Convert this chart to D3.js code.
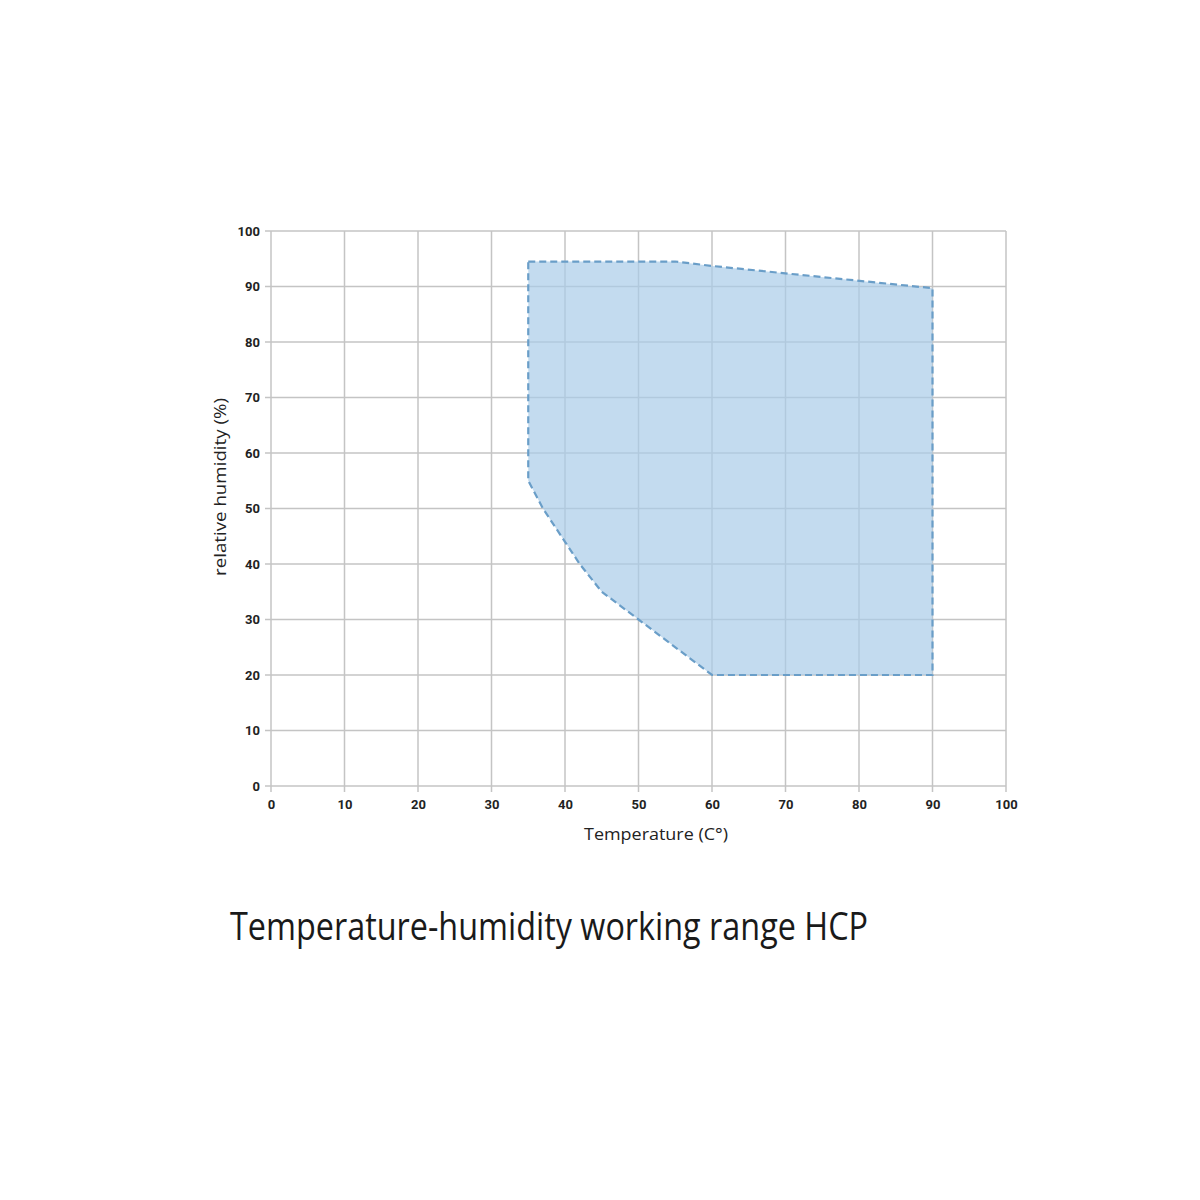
<!DOCTYPE html>
<html><head><meta charset="utf-8">
<script src="https://cdn.jsdelivr.net/npm/d3@7"></script>
<style>
html,body{margin:0;padding:0;background:#fff;}
.tick text{font-family:Roboto,"Liberation Sans",sans-serif;font-weight:bold;font-size:13px;fill:#222;}
</style></head>
<body><svg id="c" width="1200" height="1200"></svg>
<script>
const xTicks=[0,10,20,30,40,50,60,70,80,90,100];
const yTicks=[0,10,20,30,40,50,60,70,80,90,100];
const rangeTemp=[35,55,60,90,90,60,50,45,42,40,37,35];
const rangeHum=[94.5,94.5,93.7,89.7,20,20,30,35,40,44,50,55];

const svg=d3.select("#c");
const L=271,R=1006,T=231,B=786;
const x=d3.scaleLinear().domain([0,100]).range([L,R]);
const y=d3.scaleLinear().domain([0,100]).range([B,T]);
const grid="#c4c4c4";

const g=svg.append("g");
g.selectAll("line.v").data(xTicks).join("line").attr("x1",d=>x(d)).attr("x2",d=>x(d)).attr("y1",T).attr("y2",B+6).attr("stroke",grid).attr("stroke-width",1.5);
g.selectAll("line.h").data(yTicks).join("line").attr("y1",d=>y(d)).attr("y2",d=>y(d)).attr("x1",L-6).attr("x2",R).attr("stroke",grid).attr("stroke-width",1.5);

const pts=rangeTemp.map((t,i)=>[x(t),y(rangeHum[i])]);
svg.append("path").attr("d",d3.line()(pts)+"Z").attr("fill","#a9cce8").attr("fill-opacity",0.7)
  .attr("stroke","#6a9ec8").attr("stroke-width",2.2).attr("stroke-dasharray","7,4");

const xa=svg.append("g").attr("transform",`translate(0,${B})`).call(d3.axisBottom(x).tickValues(xTicks).tickSize(0).tickPadding(14));
xa.select(".domain").remove();
const ya=svg.append("g").attr("transform",`translate(${L},0)`).call(d3.axisLeft(y).tickValues(yTicks).tickSize(0).tickPadding(11));
ya.select(".domain").remove();

const lf='"Open Sans","Liberation Sans",sans-serif';
svg.append("text").attr("x",656).attr("y",840).attr("text-anchor","middle").attr("font-family",lf).attr("font-size",17).attr("fill","#222").attr("textLength",144).attr("lengthAdjust","spacingAndGlyphs").text("Temperature (C°)");
svg.append("text").attr("transform","translate(226,487) rotate(-90)").attr("text-anchor","middle").attr("font-family",lf).attr("font-size",17).attr("fill","#222").attr("textLength",178).attr("lengthAdjust","spacingAndGlyphs").text("relative humidity (%)");
svg.append("text").attr("x",230).attr("y",940).attr("font-family",lf).attr("font-size",38).attr("fill","#1a1a1a").attr("textLength",638).attr("lengthAdjust","spacingAndGlyphs").text("Temperature-humidity working range HCP");
</script></body></html>
